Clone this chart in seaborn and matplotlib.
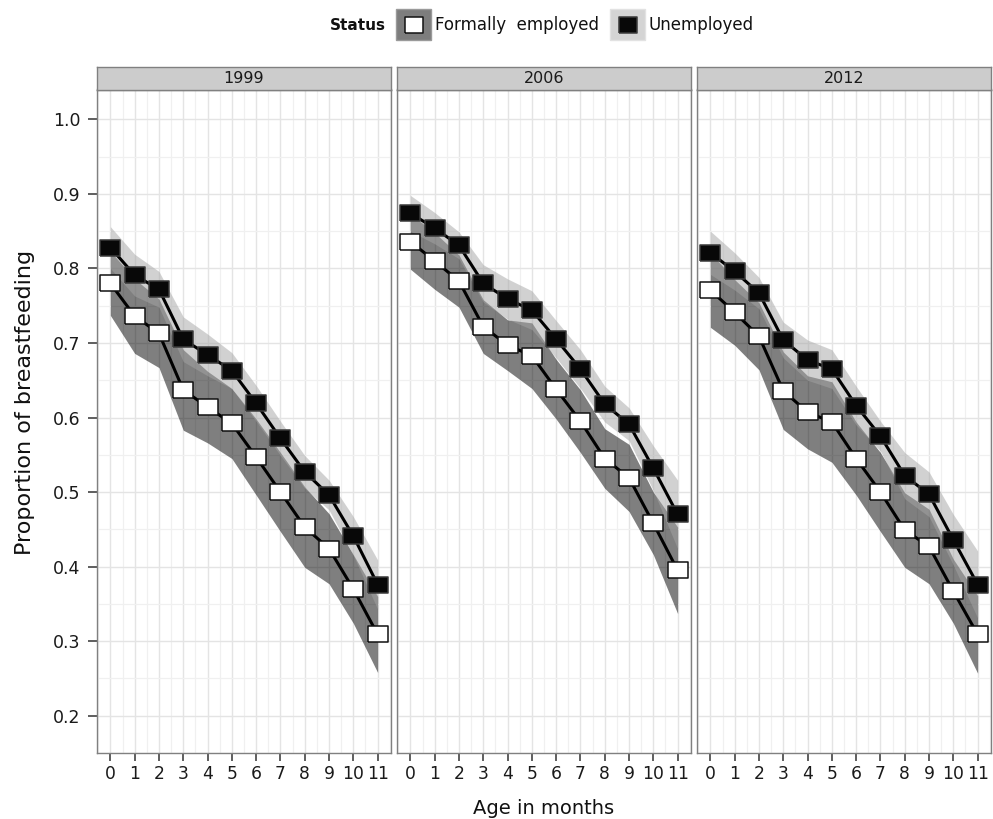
import numpy as np
import pandas as pd
import matplotlib
matplotlib.use("Agg")
import matplotlib.pyplot as plt
from matplotlib.patches import Rectangle
from matplotlib.lines import Line2D
import seaborn as sns

# ---------------- data ----------------
years = ["1999", "2006", "2012"]
ages = list(range(12))
status_labels = ["Formally  employed", "Unemployed"]

employed_1999 = [0.780, 0.736, 0.713, 0.637, 0.614, 0.592, 0.547, 0.500, 0.453, 0.424, 0.370, 0.309]
unemployed_1999 = [0.828, 0.791, 0.772, 0.705, 0.684, 0.663, 0.619, 0.572, 0.527, 0.496, 0.441, 0.376]
employed_2006 = [0.836, 0.810, 0.783, 0.722, 0.697, 0.683, 0.638, 0.595, 0.545, 0.519, 0.458, 0.395]
unemployed_2006 = [0.874, 0.854, 0.831, 0.780, 0.759, 0.744, 0.705, 0.665, 0.618, 0.591, 0.532, 0.470]
employed_2012 = [0.771, 0.741, 0.709, 0.636, 0.607, 0.594, 0.545, 0.500, 0.449, 0.427, 0.367, 0.309]
unemployed_2012 = [0.821, 0.796, 0.767, 0.704, 0.677, 0.665, 0.616, 0.575, 0.522, 0.497, 0.436, 0.376]

# confidence band half-widths
employed_ci_1999 = [0.043, 0.050, 0.046, 0.054, 0.048, 0.047, 0.051, 0.053, 0.054, 0.047, 0.046, 0.051]
unemployed_ci_1999 = [0.028, 0.028, 0.024, 0.030, 0.028, 0.024, 0.024, 0.023, 0.022, 0.020, 0.026, 0.033]
employed_ci_2006 = [0.037, 0.038, 0.035, 0.036, 0.034, 0.044, 0.040, 0.042, 0.040, 0.045, 0.042, 0.058]
unemployed_ci_2006 = [0.024, 0.021, 0.018, 0.025, 0.027, 0.026, 0.025, 0.026, 0.024, 0.022, 0.030, 0.046]
employed_ci_2012 = [0.050, 0.044, 0.045, 0.052, 0.049, 0.054, 0.049, 0.053, 0.050, 0.050, 0.043, 0.052]
unemployed_ci_2012 = [0.029, 0.025, 0.021, 0.024, 0.027, 0.026, 0.026, 0.020, 0.031, 0.030, 0.034, 0.045]

y_ticks = [0.2, 0.3, 0.4, 0.5, 0.6, 0.7, 0.8, 0.9, 1.0]

series = {
    "1999": (employed_1999, unemployed_1999, employed_ci_1999, unemployed_ci_1999),
    "2006": (employed_2006, unemployed_2006, employed_ci_2006, unemployed_ci_2006),
    "2012": (employed_2012, unemployed_2012, employed_ci_2012, unemployed_ci_2012),
}

rows = []
for yr in years:
    emp, unemp, emp_ci, unemp_ci = series[yr]
    for a, v, c in zip(ages, emp, emp_ci):
        rows.append((yr, status_labels[0], a, v, v - c, v + c))
    for a, v, c in zip(ages, unemp, unemp_ci):
        rows.append((yr, status_labels[1], a, v, v - c, v + c))
df = pd.DataFrame(rows, columns=["year", "status", "age", "prop", "lo", "hi"])

# ---------------- style ----------------
sns.set_theme(style="white")
plt.rcParams["font.family"] = ["DejaVu Sans"]

W, H = 993, 819
fig = plt.figure(figsize=(W / 100, H / 100), dpi=100)

def fx(px):
    return px / W

def fy(py):
    return 1 - py / H

panel_left_px = [97, 397, 697]
panel_w_px = 294
panel_top_px = 89.5
panel_bot_px = 753
strip_top_px = 67

rect_marker = [(-1, -0.87), (1, -0.87), (1, 0.87), (-1, 0.87), (-1, -0.87)]

band_style = {
    status_labels[0]: dict(color="black", alpha=0.5),
    status_labels[1]: dict(color="#a5a5a5", alpha=0.5),
}
marker_style = {
    status_labels[0]: dict(markerfacecolor="white", markeredgecolor="#111111"),
    status_labels[1]: dict(markerfacecolor="#080808", markeredgecolor="#3a3a3a"),
}

for i, yr in enumerate(years):
    left = fx(panel_left_px[i])
    ax = fig.add_axes([left, fy(panel_bot_px), fx(panel_w_px),
                       (panel_bot_px - panel_top_px) / H])
    ax.set_facecolor("white")
    ax.set_xlim(-0.55, 11.55)
    ax.set_ylim(0.16, 1.04)
    ax.set_xticks(ages)
    ax.set_xticks(np.arange(-0.5, 12.0, 1.0), minor=True)
    ax.set_yticks(y_ticks)
    ax.set_yticks(np.arange(0.15, 1.05, 0.1), minor=True)
    ax.grid(which="major", color="#e4e4e4", lw=1.0)
    ax.grid(which="minor", color="#f0f0f0", lw=0.9)
    ax.set_axisbelow(True)
    for sp in ax.spines.values():
        sp.set_color("#808080")
        sp.set_linewidth(1.0)

    sub = df[df["year"] == yr]
    for st in status_labels:
        s = sub[sub["status"] == st]
        ax.fill_between(s["age"], s["lo"], s["hi"], lw=0, zorder=2, **band_style[st])
    for st in status_labels:
        s = sub[sub["status"] == st]
        sns.lineplot(data=s, x="age", y="prop", ax=ax, color="black", lw=2.2,
                     errorbar=None, legend=False, marker=rect_marker,
                     markersize=14, markeredgewidth=1.1, zorder=3,
                     **marker_style[st])

    ax.set_xlabel("")
    ax.set_ylabel("")
    ax.set_xticklabels([str(a) for a in ages])
    ax.tick_params(axis="x", which="major", length=6, width=1.1, color="#333333",
                   pad=2.5, labelsize=12.3, labelcolor="#1a1a1a", direction="out", bottom=True)
    ax.tick_params(which="minor", length=0)
    if i == 0:
        ax.set_yticklabels([f"{v:.1f}" for v in y_ticks])
        ax.tick_params(axis="y", which="major", length=6.5, width=1.1, color="#333333",
                       pad=5.5, labelsize=12.5, labelcolor="#1a1a1a", direction="out", left=True)
    else:
        ax.tick_params(axis="y", which="both", left=False, labelleft=False)

    # facet strip
    sax = fig.add_axes([left, fy(panel_top_px), fx(panel_w_px),
                        (panel_top_px - strip_top_px) / H])
    sax.set_facecolor("#cccccc")
    sax.set_xticks([])
    sax.set_yticks([])
    for sp in sax.spines.values():
        sp.set_color("#808080")
        sp.set_linewidth(1.0)
    sax.text(0.5, 0.5, yr, ha="center", va="center", fontsize=11.5,
             color="#1a1a1a", transform=sax.transAxes)

# axis titles
fig.text(fx(25), fy(402), "Proportion of breastfeeding", rotation=90,
         ha="center", va="center", fontsize=16, color="#111111")
fig.text(fx(544), fy(814), "Age in months", ha="center", va="baseline",
         fontsize=14, color="#111111")

# legend (top)
ly = 25
fig.text(fx(330), fy(ly), "Status", ha="left", va="center", fontsize=11,
         fontweight="bold", color="#111111")
keys = [(396, "#7d7d7d", "#9a9a9a", status_labels[0], 435),
        (610, "#d4d4d4", "#e2e2e2", status_labels[1], 649)]
for kx, kfill, kedge, lab, tx in keys:
    fig.add_artist(Rectangle((fx(kx), fy(40)), fx(35), 31 / H, facecolor=kfill,
                             edgecolor=kedge, lw=1.0, transform=fig.transFigure))
    fig.add_artist(Line2D([fx(kx + 17.5)], [fy(ly)], marker=rect_marker,
                          markersize=13, markeredgewidth=1.1, linestyle="none",
                          transform=fig.transFigure, **marker_style[lab]))
    fig.text(fx(tx), fy(ly), lab, ha="left", va="center", fontsize=12, color="#111111")

fig.savefig("out.png", dpi=100)
